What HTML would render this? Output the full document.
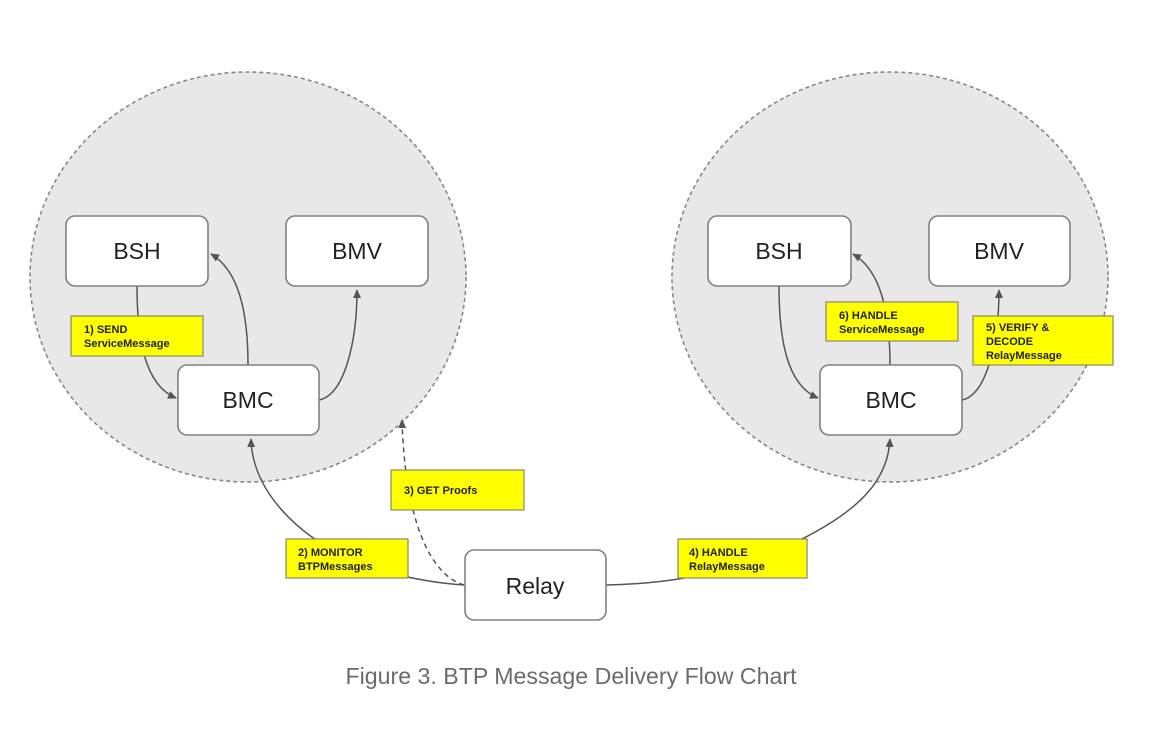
<!DOCTYPE html>
<html><head><meta charset="utf-8"><style>
html,body{margin:0;padding:0;background:#fff;}
svg{display:block;}
.box{fill:#fff;stroke:#808080;stroke-width:1.6;}
.bt{font-family:"Liberation Sans",Arial,sans-serif;font-size:23px;fill:#222;text-anchor:middle;}
.lb{fill:#ffff00;stroke:#8a8a6a;stroke-width:1.2;}
.lt{font-family:"Liberation Sans",Arial,sans-serif;font-size:11px;font-weight:bold;fill:#222;}
.ln{fill:none;stroke:#555;stroke-width:1.5;}
</style></head><body>
<svg width="1149" height="730" viewBox="0 0 1149 730" xmlns="http://www.w3.org/2000/svg">
<defs><marker id="a" markerWidth="10" markerHeight="10" refX="8" refY="5" orient="auto" markerUnits="userSpaceOnUse"><path d="M0,1 L9,5 L0,9 Z" fill="#555"/></marker></defs>
<ellipse cx="248" cy="277" rx="218" ry="205" fill="#e8e8e8" stroke="#888" stroke-width="1.6" stroke-dasharray="4,3"/>
<ellipse cx="890" cy="277" rx="218" ry="205" fill="#e8e8e8" stroke="#888" stroke-width="1.6" stroke-dasharray="4,3"/>

<path class="ln" d="M137,286 C137,340 145,385 176,398" marker-end="url(#a)"/>
<path class="ln" d="M248,365 C248,310 238,270 211,254" marker-end="url(#a)"/>
<path class="ln" d="M319,400 C345,395 357,340 357,290" marker-end="url(#a)"/>
<path class="ln" d="M464,585 C420,582 360,570 316,540 C280,515 252,480 251,439" marker-end="url(#a)"/>
<path class="ln" d="M464,585 C430,575 405,520 402,420" stroke-dasharray="5,4" marker-end="url(#a)"/>
<path class="ln" d="M779,286 C779,340 787,385 818,398" marker-end="url(#a)"/>
<path class="ln" d="M890,365 C890,310 880,270 853,254" marker-end="url(#a)"/>
<path class="ln" d="M962,400 C987,395 999,340 999,290" marker-end="url(#a)"/>
<path class="ln" d="M606,585 C650,584 720,580 800,540 C860,510 888,480 890,439" marker-end="url(#a)"/>

<rect class="box" x="66" y="216" width="142" height="70" rx="9"/><text class="bt" x="137" y="259">BSH</text>
<rect class="box" x="286" y="216" width="142" height="70" rx="9"/><text class="bt" x="357" y="259">BMV</text>
<rect class="box" x="178" y="365" width="141" height="70" rx="9"/><text class="bt" x="248" y="408">BMC</text>
<rect class="box" x="708" y="216" width="143" height="70" rx="9"/><text class="bt" x="779" y="259">BSH</text>
<rect class="box" x="929" y="216" width="141" height="70" rx="9"/><text class="bt" x="999" y="259">BMV</text>
<rect class="box" x="820" y="365" width="142" height="70" rx="9"/><text class="bt" x="891" y="408">BMC</text>
<rect class="box" x="465" y="550" width="141" height="70" rx="9"/><text class="bt" x="535" y="594">Relay</text>

<rect class="lb" x="71" y="316" width="132" height="40"/>
<text class="lt" x="84" y="333">1) SEND</text><text class="lt" x="84" y="347">ServiceMessage</text>
<rect class="lb" x="286" y="539" width="122" height="39"/>
<text class="lt" x="298" y="556">2) MONITOR</text><text class="lt" x="298" y="570">BTPMessages</text>
<rect class="lb" x="391" y="470" width="133" height="40"/>
<text class="lt" x="404" y="494">3) GET Proofs</text>
<rect class="lb" x="678" y="539" width="129" height="39"/>
<text class="lt" x="689" y="556">4) HANDLE</text><text class="lt" x="689" y="570">RelayMessage</text>
<rect class="lb" x="826" y="302" width="132" height="39"/>
<text class="lt" x="839" y="319">6) HANDLE</text><text class="lt" x="839" y="333">ServiceMessage</text>
<rect class="lb" x="973" y="316" width="140" height="49"/>
<text class="lt" x="986" y="331">5) VERIFY &amp;</text><text class="lt" x="986" y="345">DECODE</text><text class="lt" x="986" y="359">RelayMessage</text>

<text x="571" y="684" text-anchor="middle" font-family="Liberation Sans,Arial,sans-serif" font-size="23" textLength="451" lengthAdjust="spacingAndGlyphs" fill="#6b6b6b">Figure 3. BTP Message Delivery Flow Chart</text>
</svg>
</body></html>
